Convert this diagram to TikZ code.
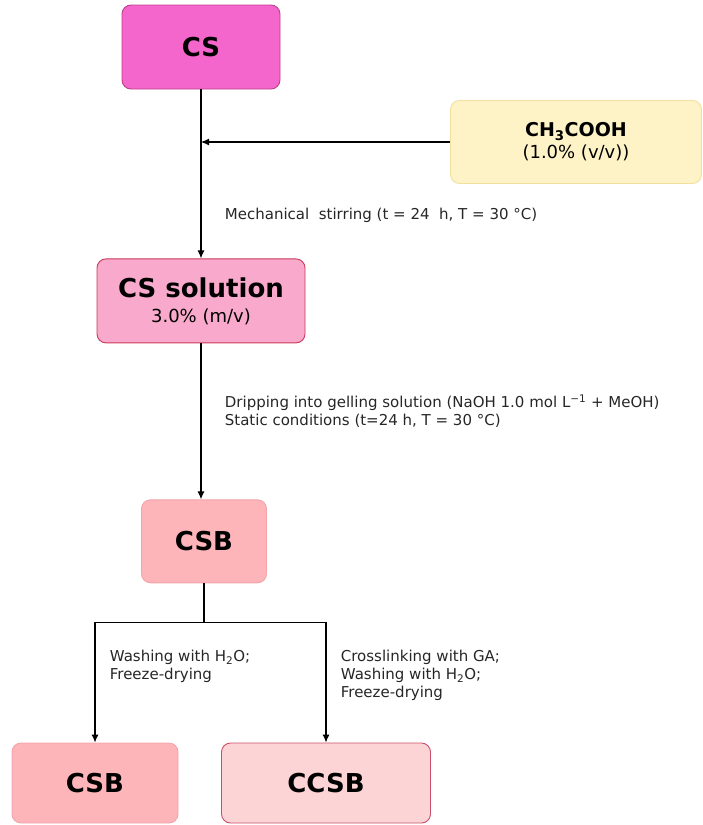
\documentclass[tikz,border=0pt]{standalone}
\usepackage{fontspec}
\setmainfont{DejaVu Sans}
\usetikzlibrary{positioning,arrows.meta}
\definecolor{csfill}{HTML}{F466CC}
\definecolor{csline}{HTML}{C0408A}
\definecolor{acidfill}{HTML}{FEF3C6}
\definecolor{acidline}{HTML}{F2DFA0}
\definecolor{solfill}{HTML}{F9A9CB}
\definecolor{solline}{HTML}{C83A5A}
\definecolor{beadfill}{HTML}{FDB5BA}
\definecolor{beadline}{HTML}{F3A3AA}
\definecolor{ccsbfill}{HTML}{FDD4D6}
\definecolor{ccsbline}{HTML}{C8506A}

\begin{document}
\begin{tikzpicture}[
        x=1pt, y=-1pt,
        font=\fontsize{15}{18}\selectfont,
        box/.style={draw, rounded corners=9pt, line width=0.9pt, align=center, inner sep=0pt},
        title/.style={font=\fontsize{26}{30}\selectfont\bfseries},
        arrow/.style={-{Latex[length=8pt, width=7pt]}, line width=1.1pt, draw=black},
        link/.style={line width=1.1pt, draw=black},
        note/.style={anchor=west, align=left, text=black!85},
    ]
    \useasboundingbox (0,0) rectangle (702,825);

    % Boxes
    \node[box, fill=csfill, draw=csline, minimum width=158pt, minimum height=84pt, title] (cs) at (201,47) {CS};
    \node[box, fill=acidfill, draw=acidline, minimum width=251pt, minimum height=83pt,
          font=\fontsize{18}{22}\selectfont] (acid) at (576,142)
        {{\fontsize{19}{22}\selectfont\bfseries CH\textsubscript{3}COOH}\\(1.0\% (v/v))};
    \node[box, fill=solfill, draw=solline, minimum width=208pt, minimum height=84pt,
          font=\fontsize{18}{25}\selectfont, below=169pt of cs] (solution)
        {{\fontsize{26}{28}\selectfont\bfseries CS solution}\\3.0\% (m/v)};
    \node[box, fill=beadfill, draw=beadline, minimum width=125pt, minimum height=83pt, title, below=156pt of solution, xshift=3pt] (csb) {CSB};
    \node[box, fill=beadfill, draw=beadline, minimum width=166pt, minimum height=80pt, title] (csbdry) at (95,783) {CSB};
    \node[box, fill=ccsbfill, draw=ccsbline, minimum width=209pt, minimum height=80pt, title] (ccsb) at (326,783) {CCSB};

    % Lines
    \coordinate (join) at (cs.south |- acid.west);
    \coordinate (split) at ([yshift=-39pt]csb.south);
    \draw[arrow] (acid) -- (join);
    \draw[arrow] (cs) -- node[note, pos=0.745, xshift=20pt] {Mechanical~ stirring (t = 24~ h, T = 30 °C)} (solution);
    \draw[arrow] (solution) -- node[note, pos=0.436, xshift=20pt]
        {Dripping into gelling solution (NaOH 1.0 mol L\textsuperscript{−1} + MeOH)\\Static conditions (t=24 h, T = 30 °C)} (solution |- csb.north);
    \draw[link] (csb) -- (split);
    \draw[arrow] (split) -| node[note, pos=0.685, xshift=11pt] {Washing with H\textsubscript{2}O;\\Freeze-drying} (csbdry);
    \draw[arrow] (split) -| node[note, pos=0.72, xshift=11pt] {Crosslinking with GA;\\Washing with H\textsubscript{2}O;\\Freeze-drying} (ccsb);

\end{tikzpicture}
\end{document}
